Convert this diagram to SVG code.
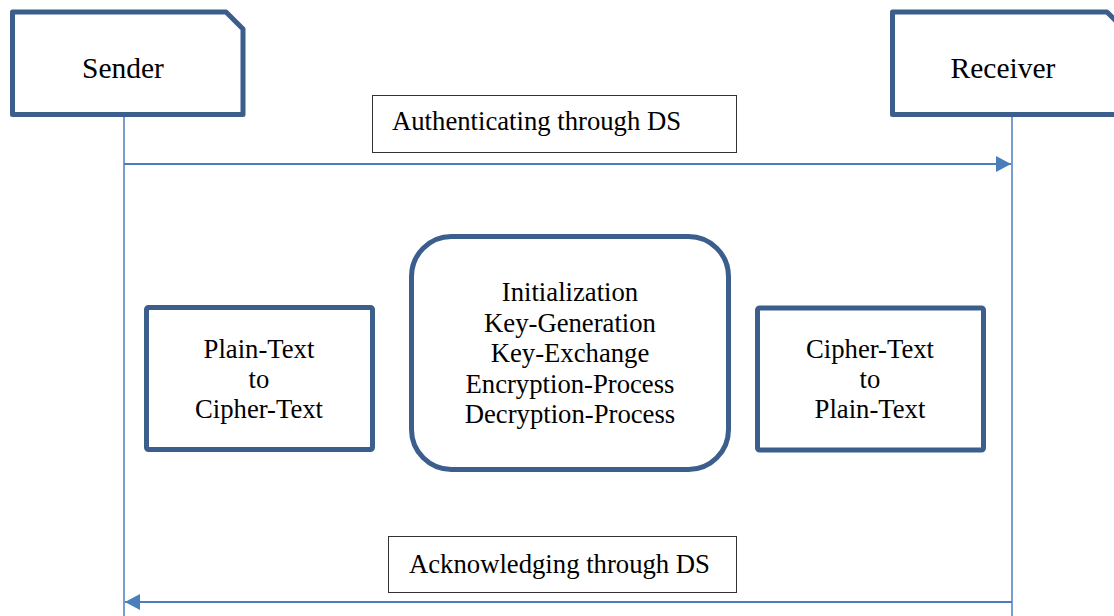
<svg xmlns="http://www.w3.org/2000/svg" width="1114" height="616" viewBox="0 0 1114 616">
  <defs>
    <style>
      .node { fill: #ffffff; stroke: #3B5E8C; stroke-width: 5; stroke-linejoin: round; }
      .label { fill: #ffffff; stroke: #333333; stroke-width: 1; }
      .t { font-family: "Liberation Serif", "Times New Roman", serif; font-size: 26.7px; fill: #000000; }
      .big { font-size: 29.5px; }
      .mid { text-anchor: middle; }
      .life { stroke: #4A7EBB; stroke-width: 1.5; fill: none; }
      .msg { stroke: #4A7EBB; stroke-width: 2; fill: none; }
    </style>
    <marker id="arrow" viewBox="0 0 15 16" refX="15" refY="8" markerWidth="15" markerHeight="16" markerUnits="userSpaceOnUse" orient="auto">
      <path d="M0,0 L15,8 L0,16 z" fill="#4A7EBB"/>
    </marker>
  </defs>
  <rect width="1114" height="616" fill="#ffffff"/>

  <g id="sender">
    <path class="node" d="M12.5,12 L226,12 L243,29 L243,114.5 L12.5,114.5 Z"/>
    <text class="t big mid" x="123" y="78">Sender</text>
  </g>

  <g id="receiver">
    <path class="node" d="M892.5,12 L1107,12 L1124,29 L1124,114.5 L892.5,114.5 Z"/>
    <text class="t big mid" x="1003" y="78">Receiver</text>
  </g>

  <g id="connectors">
    <line class="life" x1="124" y1="117" x2="124" y2="616"/>
    <line class="life" x1="1012" y1="117" x2="1012" y2="616"/>
    <line class="msg" x1="124" y1="164" x2="1011" y2="164" marker-end="url(#arrow)"/>
    <line class="msg" x1="1012" y1="602" x2="125" y2="602" marker-end="url(#arrow)"/>
  </g>

  <g id="auth-label">
    <rect class="label" x="372.5" y="95.5" width="364" height="57"/>
    <text class="t" x="392" y="130">Authenticating through DS</text>
  </g>

  <g id="ack-label">
    <rect class="label" x="388.5" y="536.5" width="348" height="56"/>
    <text class="t" x="409" y="573">Acknowledging through DS</text>
  </g>

  <g id="plain-to-cipher">
    <rect class="node" x="146.5" y="307.5" width="226" height="142" rx="2"/>
    <text class="t mid" x="259" y="358">Plain-Text</text>
    <text class="t mid" x="259" y="388">to</text>
    <text class="t mid" x="259" y="418">Cipher-Text</text>
  </g>

  <g id="process">
    <rect class="node" x="411.5" y="236.5" width="317" height="233" rx="40"/>
    <text class="t mid" x="570" y="301">Initialization</text>
    <text class="t mid" x="570" y="331.5">Key-Generation</text>
    <text class="t mid" x="570" y="362">Key-Exchange</text>
    <text class="t mid" x="570" y="392.5">Encryption-Process</text>
    <text class="t mid" x="570" y="423">Decryption-Process</text>
  </g>

  <g id="cipher-to-plain">
    <rect class="node" x="757.5" y="308" width="226" height="142" rx="2"/>
    <text class="t mid" x="870" y="358">Cipher-Text</text>
    <text class="t mid" x="870" y="388">to</text>
    <text class="t mid" x="870" y="418">Plain-Text</text>
  </g>
</svg>
